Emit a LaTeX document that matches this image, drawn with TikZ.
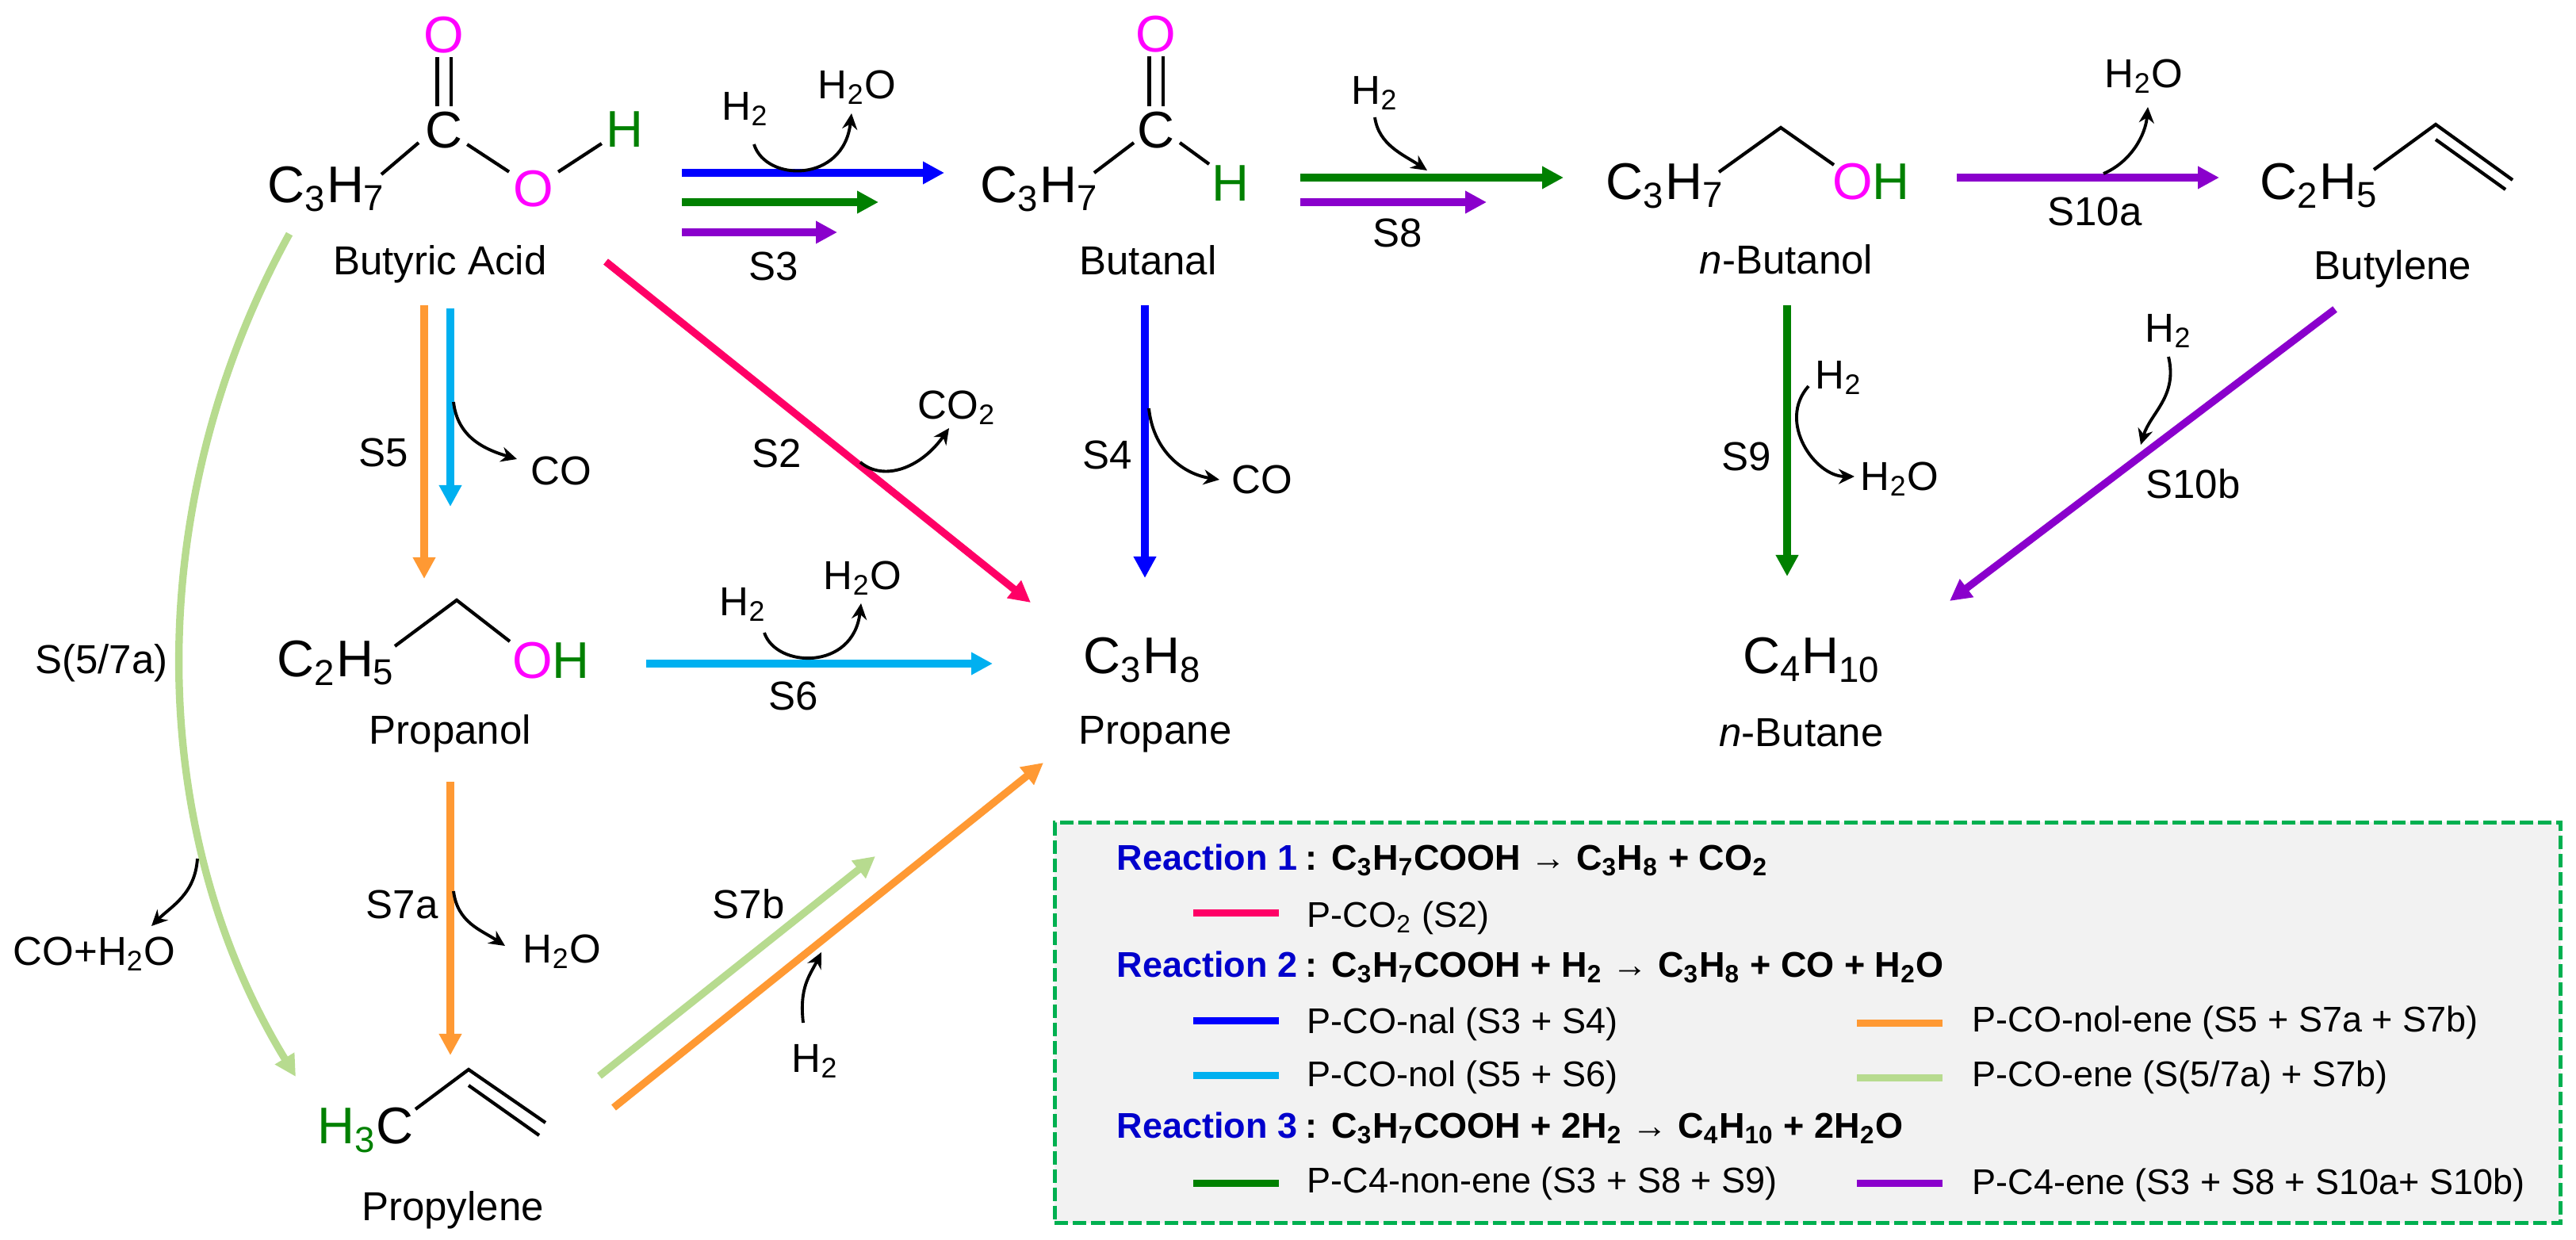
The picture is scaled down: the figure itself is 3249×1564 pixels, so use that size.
\documentclass[tikz,border=0pt]{standalone}
\usepackage{fontspec}
\setmainfont{Liberation Sans}
\usetikzlibrary{arrows.meta}
\definecolor{pinkO}{HTML}{FF00FF}
\definecolor{greenH}{HTML}{008000}
\definecolor{routeblue}{HTML}{0000FF}
\definecolor{routegreen}{HTML}{008000}
\definecolor{routepurple}{HTML}{8A00CC}
\definecolor{routeorange}{HTML}{FF9933}
\definecolor{routecyan}{HTML}{00B0F0}
\definecolor{routelime}{HTML}{B7DB8F}
\definecolor{routepink}{HTML}{FF0066}
\definecolor{rxnblue}{HTML}{0000CC}
\definecolor{boxgreen}{HTML}{00B050}
\definecolor{boxfill}{HTML}{F2F2F2}
\begin{document}
\begin{tikzpicture}[x=0.01cm,y=-0.01cm]
  \tikzset{ atom/.style={font=\fontsize{18.5}{20}\selectfont,inner sep=.05cm,text height=13.2pt,text depth=0pt},
    lbl/.style={font=\fontsize{14.5}{16}\selectfont,inner sep=0pt,text height=10.4pt,text depth=0pt},
    leg/.style={font=\fontsize{12.8}{14}\selectfont,inner sep=0pt,anchor=west,text height=9.2pt,text depth=0pt},
    rxn/.style={leg,font=\fontsize{12.8}{14}\selectfont\bfseries},
    swatch/.style={inner sep=0pt,minimum width=1.08cm,minimum height=.09cm},
    route/.style={line width=2.65pt,-{Triangle[length=.27cm,width=.27cm]}},
    bond/.style={line width=1.2pt},
    dbl/.style={bond,double,double distance=.13cm},
    side/.style={line width=1.1pt,-{Stealth[length=.2cm,width=.19cm]}},
  }
  \useasboundingbox (0,0) rectangle (3249,1564);

  % the molecules
  \node[atom,pinkO] (acidO) at (560,43) {O};
  \node[atom] (acidC) at (560,163) {C};
  \node[atom] (acidR) at (412,232) {C\textsubscript{3}H\textsubscript{7}};
  \node[atom,pinkO] (acidOH) at (673,237) {O};
  \node[atom,greenH] (acidH) at (788,162) {H};
  \node[lbl] (lacid) at (555,328) {Butyric Acid};

  \node[atom,pinkO] (nalO) at (1458,42) {O};
  \node[atom] (nalC) at (1458,163) {C};
  \node[atom] (nalR) at (1311,232) {C\textsubscript{3}H\textsubscript{7}};
  \node[atom,greenH] (nalH) at (1552,230) {H};
  \node[lbl] (lnal) at (1448,328) {Butanal};

  \node[atom] (nolR) at (2100,228) {C\textsubscript{3}H\textsubscript{7}};
  \node[atom] (nolOH) at (2360,228) {\textcolor{pinkO}{O}\textcolor{greenH}{H}};
  \node[lbl] (lnol) at (2253,327) {\textit{n}-Butanol};

  \node[atom] (eneR) at (2925,228) {C\textsubscript{2}H\textsubscript{5}};
  \node[lbl] (lene) at (3018,334) {Butylene};

  \node[atom] (proR) at (424,830) {C\textsubscript{2}H\textsubscript{5}};
  \node[atom] (proOH) at (695,832) {\textcolor{pinkO}{O}\textcolor{greenH}{H}};
  \node[lbl] (lpro) at (568,920) {Propanol};

  \node[atom] (pylR) at (461,1419) {\textcolor{greenH}{H\textsubscript{3}}C};
  \node[lbl] (lpyl) at (571,1521) {Propylene};

  \node[atom] (propane) at (1441,826) {C\textsubscript{3}H\textsubscript{8}};
  \node[lbl] (lpropane) at (1457,920) {Propane};
  \node[atom] (butane) at (2285,826) {C\textsubscript{4}H\textsubscript{10}};
  \node[lbl] (lbutane) at (2272,923) {\textit{n}-Butane};

  % the step labels
  \node[lbl] (s2) at (980,571) {S2};
  \node[lbl] (s3) at (976,335) {S3};
  \node[lbl] (s4) at (1397,573) {S4};
  \node[lbl] (s5) at (484,570) {S5};
  \node[lbl] (s6) at (1001,877) {S6};
  \node[lbl] (s57) at (128,831) {S(5/7a)};
  \node[lbl] (s7a) at (507,1140) {S7a};
  \node[lbl] (s7b) at (944,1140) {S7b};
  \node[lbl] (s8) at (1763,293) {S8};
  \node[lbl] (s9) at (2203,575) {S9};
  \node[lbl] (s10a) at (2642,266) {S10a};
  \node[lbl] (s10b) at (2766,610) {S10b};

  % what goes in and comes out
  \node[lbl] (h2s3) at (940,133) {H\textsubscript{2}};
  \node[lbl] (wats3) at (1081,106) {H\textsubscript{2}O};
  \node[lbl] (h2s8) at (1734,113) {H\textsubscript{2}};
  \node[lbl] (wats10) at (2704,92) {H\textsubscript{2}O};
  \node[lbl] (co2s2) at (1207,510) {CO\textsubscript{2}};
  \node[lbl] (cos4) at (1592,604) {CO};
  \node[lbl] (cos5) at (708,593) {CO};
  \node[lbl] (h2s6) at (937,758) {H\textsubscript{2}};
  \node[lbl] (wats6) at (1088,725) {H\textsubscript{2}O};
  \node[lbl] (h2s9) at (2319,472) {H\textsubscript{2}};
  \node[lbl] (wats9) at (2396,600) {H\textsubscript{2}O};
  \node[lbl] (h2s10) at (2735,413) {H\textsubscript{2}};
  \node[lbl] (mix) at (119,1199) {CO+H\textsubscript{2}O};
  \node[lbl] (wats7) at (709,1196) {H\textsubscript{2}O};
  \node[lbl] (h2s7) at (1028,1334) {H\textsubscript{2}};

  % free ends of the bonds
  \coordinate (acidb1) at (528,180);
  \coordinate (acidb2) at (481,220);
  \coordinate (nalb1) at (1430,180);
  \coordinate (nalb2) at (1380,218);
  \coordinate (nalb3) at (1488,180);
  \coordinate (nalb4) at (1525,207);
  \coordinate (nolb1) at (2168,217);
  \coordinate (nolb2) at (2246,161);
  \coordinate (nolb3) at (2313,208);
  \coordinate (eneb1) at (2994,214);
  \coordinate (eneb2) at (3072,157);
  \coordinate (eneb3) at (3169,227);
  \coordinate (eneb4) at (3072,176);
  \coordinate (eneb5) at (3160,239);
  \coordinate (prob1) at (498,815);
  \coordinate (prob2) at (576,757);
  \coordinate (prob3) at (643,809);
  \coordinate (pylb1) at (524,1399);
  \coordinate (pylb2) at (591,1349);
  \coordinate (pylb3) at (688,1416);
  \coordinate (pylb4) at (591,1369);
  \coordinate (pylb5) at (680,1432);

  % the bonds
  \draw[dbl] (acidO) -- (acidC);
  \draw[bond] (acidC) -- (acidOH);
  \draw[bond] (acidOH) -- (acidH);
  \draw[bond] (acidb1) -- (acidb2);
  \draw[dbl] (nalO) -- (nalC);
  \draw[bond] (nalb1) -- (nalb2);
  \draw[bond] (nalb3) -- (nalb4);
  \draw[bond] (nolb1) -- (nolb2) -- (nolb3);
  \draw[bond] (eneb1) -- (eneb2) -- (eneb3);
  \draw[bond] (eneb4) -- (eneb5);
  \draw[bond] (prob1) -- (prob2) -- (prob3);
  \draw[bond] (pylb1) -- (pylb2) -- (pylb3);
  \draw[bond] (pylb4) -- (pylb5);

  % ends of the routes
  \coordinate (s3a) at (860,218);
  \coordinate (s3b) at (1191,218);
  \coordinate (s3c) at (860,255);
  \coordinate (s3d) at (1108,255);
  \coordinate (s3e) at (860,293);
  \coordinate (s3f) at (1056,293);
  \coordinate (s8a) at (1640,224);
  \coordinate (s8b) at (1972,224);
  \coordinate (s8c) at (1640,255);
  \coordinate (s8d) at (1875,255);
  \coordinate (s10a1) at (2468,224);
  \coordinate (s10a2) at (2799,224);
  \coordinate (s2a) at (764,330);
  \coordinate (s2b) at (1300,760);
  \coordinate (s4a) at (1444,385);
  \coordinate (s4b) at (1444,729);
  \coordinate (s5a) at (535,385);
  \coordinate (s5b) at (535,730);
  \coordinate (s5c) at (568,389);
  \coordinate (s5d) at (568,639);
  \coordinate (s6a) at (815,837);
  \coordinate (s6b) at (1252,837);
  \coordinate (s7a1) at (568,986);
  \coordinate (s7a2) at (568,1331);
  \coordinate (s7b1) at (756,1357);
  \coordinate (s7b2) at (1104,1080);
  \coordinate (s7b3) at (774,1397);
  \coordinate (s7b4) at (1316,962);
  \coordinate (s9a) at (2254,385);
  \coordinate (s9b) at (2254,727);
  \coordinate (s10b1) at (2945,390);
  \coordinate (s10b2) at (2459,758);
  \coordinate (s57a) at (365,295);
  \coordinate (s57b) at (373,1358);

  % the routes
  \draw[route,routeblue] (s3a) -- (s3b);
  \draw[route,routegreen] (s3c) -- (s3d);
  \draw[route,routepurple] (s3e) -- (s3f);
  \draw[route,routegreen] (s8a) -- (s8b);
  \draw[route,routepurple] (s8c) -- (s8d);
  \draw[route,routepurple] (s10a1) -- (s10a2);
  \draw[route,routepink] (s2a) -- (s2b);
  \draw[route,routeblue] (s4a) -- (s4b);
  \draw[route,routeorange] (s5a) -- (s5b);
  \draw[route,routecyan] (s5c) -- (s5d);
  \draw[route,routecyan] (s6a) -- (s6b);
  \draw[route,routeorange] (s7a1) -- (s7a2);
  \draw[route,routelime] (s7b1) -- (s7b2);
  \draw[route,routeorange] (s7b3) -- (s7b4);
  \draw[route,routegreen] (s9a) -- (s9b);
  \draw[route,routepurple] (s10b1) -- (s10b2);
  \draw[route,routelime] (s57a) .. controls +(-190,345) and +(-188,-308) .. (s57b);

  % ends of the small curved arrows
  \coordinate (c3a) at (951,182);
  \coordinate (c3b) at (1074,143);
  \coordinate (c8a) at (1734,148);
  \coordinate (c8b) at (1800,215);
  \coordinate (c10a) at (2653,219);
  \coordinate (c10b) at (2709,135);
  \coordinate (c2a) at (1085,583);
  \coordinate (c2b) at (1197,540);
  \coordinate (c4a) at (1449,515);
  \coordinate (c4b) at (1538,605);
  \coordinate (c5a) at (572,507);
  \coordinate (c5b) at (652,579);
  \coordinate (c6a) at (964,798);
  \coordinate (c6b) at (1086,761);
  \coordinate (c9a) at (2281,487);
  \coordinate (c9b) at (2339,601);
  \coordinate (c11a) at (2735,450);
  \coordinate (c11b) at (2700,561);
  \coordinate (c57a) at (249,1083);
  \coordinate (c57b) at (191,1168);
  \coordinate (c7a) at (572,1124);
  \coordinate (c7b) at (637,1193);
  \coordinate (c7c) at (1013,1290);
  \coordinate (c7d) at (1036,1201);

  % the small curved arrows
  \draw[side] (c3a) .. controls +(15,48) and +(-10,88) .. (c3b);
  \draw[side] (c8a) .. controls +(5,35) and +(-30,-20) .. (c8b);
  \draw[side] (c10a) .. controls +(35,-15) and +(-3,35) .. (c10b);
  \draw[side] (c2a) .. controls +(30,25) and +(-35,50) .. (c2b);
  \draw[side] (c4a) .. controls +(5,50) and +(-50,-8) .. (c4b);
  \draw[side] (c5a) .. controls +(5,45) and +(-40,-12) .. (c5b);
  \draw[side] (c6a) .. controls +(15,45) and +(-10,85) .. (c6b);
  \draw[side] (c9a) .. controls +(-40,45) and +(-50,0) .. (c9b);
  \draw[side] (c11a) .. controls +(12,50) and +(12,-40) .. (c11b);
  \draw[side] (c57a) .. controls +(-3,45) and +(25,-25) .. (c57b);
  \draw[side] (c7a) .. controls +(5,40) and +(-30,-20) .. (c7b);
  \draw[side] (c7c) .. controls +(-5,-45) and +(-15,30) .. (c7d);

  % the key
  \node[draw=boxgreen,fill=boxfill,line width=1.5pt,dash pattern=on .17cm off .06cm,inner sep=0pt,minimum width=18.98cm,minimum height=5.05cm] (keybox) at (2280,1290) {};
  \node[rxn] (r1) at (1408,1081) {\textcolor{rxnblue}{Reaction 1}\hspace{3pt}:\hspace{5pt}C\textsubscript{3}H\textsubscript{7}COOH → C\textsubscript{3}H\textsubscript{8} + CO\textsubscript{2}};
  \node[rxn] (r2) at (1408,1216) {\textcolor{rxnblue}{Reaction 2}\hspace{3pt}:\hspace{5pt}C\textsubscript{3}H\textsubscript{7}COOH + H\textsubscript{2} → C\textsubscript{3}H\textsubscript{8} + CO + H\textsubscript{2}O};
  \node[rxn] (r3) at (1408,1419) {\textcolor{rxnblue}{Reaction 3}\hspace{3pt}:\hspace{5pt}C\textsubscript{3}H\textsubscript{7}COOH + 2H\textsubscript{2} → C\textsubscript{4}H\textsubscript{10} + 2H\textsubscript{2}O};

  \node[swatch,fill=routepink] (kco2) at (1559,1151) {};
  \node[swatch,fill=routeblue] (knal) at (1559,1287) {};
  \node[swatch,fill=routecyan] (knol) at (1559,1356) {};
  \node[swatch,fill=routegreen] (knon) at (1559,1492) {};
  \node[swatch,fill=routeorange] (knolene) at (2396,1290) {};
  \node[swatch,fill=routelime] (kene) at (2396,1359) {};
  \node[swatch,fill=routepurple] (kc4) at (2396,1492) {};

  \node[leg] (tco2) at (1648,1153) {P-CO\textsubscript{2} (S2)};
  \node[leg] (tnal) at (1648,1287) {P-CO-nal (S3 + S4)};
  \node[leg] (tnol) at (1648,1354) {P-CO-nol (S5 + S6)};
  \node[leg] (tnon) at (1648,1488) {P-C4-non-ene (S3 + S8 + S9)};
  \node[leg] (tnolene) at (2487,1285) {P-CO-nol-ene (S5 + S7a + S7b)};
  \node[leg] (tene) at (2487,1354) {P-CO-ene (S(5/7a) + S7b)};
  \node[leg] (tc4) at (2487,1490) {P-C4-ene (S3 + S8 + S10a+ S10b)};
\end{tikzpicture}
\end{document}
